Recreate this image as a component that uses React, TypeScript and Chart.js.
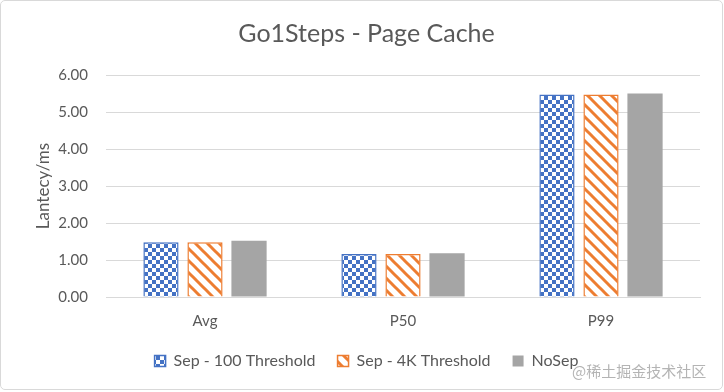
import React, { useEffect, useRef } from "react";
import { Chart, registerables } from "chart.js";

Chart.register(...registerables);

const categories = ["Avg", "P50", "P99"];
const seriesNames = ["Sep - 100 Threshold", "Sep - 4K Threshold", "NoSep"];
const sep100 = [1.48, 1.16, 5.47];
const sep4k = [1.48, 1.16, 5.47];
const noSep = [1.52, 1.18, 5.5];
const yTicks = [0, 1, 2, 3, 4, 5, 6];
const titleText = "Go1Steps - Page Cache";
const yTitle = "Lantecy/ms";
const watermark = "@稀土掘金技术社区";

const BLUE = "#4472C4";
const ORANGE = "#ED7D31";
const GRAY = "#A5A5A5";
const TEXT = "#595959";
const FONT = "Lato, 'Open Sans', sans-serif";

function checkerPattern(ctx: CanvasRenderingContext2D): CanvasPattern | string {
  const c = document.createElement("canvas");
  c.width = 8;
  c.height = 8;
  const g = c.getContext("2d")!;
  g.fillStyle = "#ffffff";
  g.fillRect(0, 0, 8, 8);
  g.fillStyle = BLUE;
  g.fillRect(0, 0, 4, 4);
  g.fillRect(4, 4, 4, 4);
  return ctx.createPattern(c, "repeat") || BLUE;
}

function stripePattern(ctx: CanvasRenderingContext2D): CanvasPattern | string {
  const s = 12;
  const c = document.createElement("canvas");
  c.width = s;
  c.height = s;
  const g = c.getContext("2d")!;
  g.fillStyle = "#ffffff";
  g.fillRect(0, 0, s, s);
  g.strokeStyle = ORANGE;
  g.lineWidth = 3;
  g.lineCap = "square";
  for (const off of [-s, 0, s]) {
    g.beginPath();
    g.moveTo(off, 0);
    g.lineTo(off + s, s);
    g.stroke();
  }
  return ctx.createPattern(c, "repeat") || ORANGE;
}

export default function App() {
  const ref = useRef<HTMLCanvasElement | null>(null);

  useEffect(() => {
    document.body.style.margin = "0";
    const canvas = ref.current!;
    const ctx = canvas.getContext("2d")!;
    const checker = checkerPattern(ctx);
    const stripes = stripePattern(ctx);

    const chart = new Chart(canvas, {
      type: "bar",
      data: {
        labels: categories,
        datasets: [
          {
            label: seriesNames[0],
            data: sep100,
            backgroundColor: checker,
            borderColor: BLUE,
            borderWidth: 1.5,
          },
          {
            label: seriesNames[1],
            data: sep4k,
            backgroundColor: stripes,
            borderColor: ORANGE,
            borderWidth: 1.5,
          },
          {
            label: seriesNames[2],
            data: noSep,
            backgroundColor: GRAY,
            borderColor: GRAY,
            borderWidth: 0,
          },
        ],
      },
      options: {
        animation: false,
        responsive: false,
        maintainAspectRatio: false,
        datasets: {
          bar: {
            categoryPercentage: 0.667,
            barPercentage: 0.8,
          },
        },
        layout: {
          padding: { left: 33, right: 24, top: 0, bottom: 13 },
        },
        plugins: {
          title: {
            display: true,
            text: titleText,
            color: TEXT,
            font: { family: FONT, size: 25, weight: "normal" },
            padding: { top: 19, bottom: 26 },
          },
          legend: {
            position: "bottom",
            labels: {
              color: TEXT,
              font: { family: FONT, size: 16 },
              boxWidth: 11,
              boxHeight: 11,
              padding: 22,
            },
          },
          tooltip: { enabled: false },
        },
        scales: {
          x: {
            grid: { display: false, drawTicks: false },
            border: { display: true, color: "#D9D9D9", width: 1 },
            afterFit: (scale: any) => {
              scale.height = 34;
            },
            ticks: {
              color: TEXT,
              font: { family: FONT, size: 15 },
              padding: 15,
            },
          },
          y: {
            min: 0,
            max: 6,
            afterBuildTicks: (scale: any) => {
              scale.ticks = yTicks.map((v) => ({ value: v }));
            },
            afterFit: (scale: any) => {
              scale.width = 73;
            },
            grid: { color: "#D9D9D9", drawTicks: false, lineWidth: 1 },
            border: { display: false },
            ticks: {
              color: TEXT,
              font: { family: FONT, size: 15 },
              padding: 18,
              callback: (v: any) => Number(v).toFixed(2),
            },
            title: {
              display: true,
              text: yTitle,
              color: TEXT,
              font: { family: FONT, size: 17 },
              padding: { top: 0, bottom: 0 },
            },
          },
        },
      },
    });
    return () => chart.destroy();
  }, []);

  return (
    <div style={{ position: "relative", width: 724, height: 392, background: "#fff" }}>
      <canvas ref={ref} width={724} height={392} style={{ display: "block" }} />
      <div
        style={{
          position: "absolute",
          left: 0,
          top: 0,
          width: 721,
          height: 388,
          border: "1px solid #D9D9D9",
          borderRadius: 5,
          pointerEvents: "none",
        }}
      />
      <div
        style={{
          position: "absolute",
          left: 572,
          top: 360,
          fontFamily: "'Noto Sans CJK SC', sans-serif",
          fontSize: 15,
          color: "#B4B4B4",
          whiteSpace: "nowrap",
        }}
      >
        {watermark}
      </div>
    </div>
  );
}
